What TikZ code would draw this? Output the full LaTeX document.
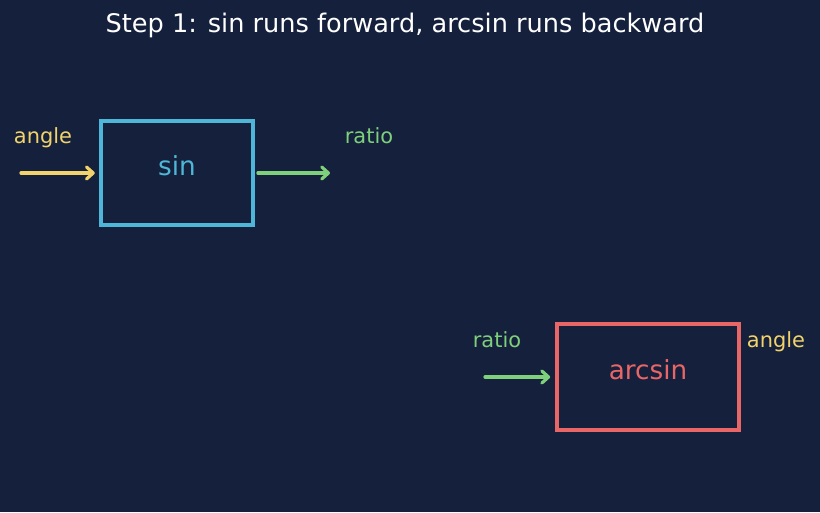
\documentclass[tikz,border=0pt]{standalone}
\usepackage{fontspec}
\setmainfont{DejaVu Sans}
\usetikzlibrary{arrows.meta}
\definecolor{bg}{HTML}{15203D}
\definecolor{cyanc}{HTML}{4EB6D6}
\definecolor{redc}{HTML}{E96666}
\definecolor{yelc}{HTML}{F2D36B}
\definecolor{grnc}{HTML}{7ED07A}
\begin{document}
\begin{tikzpicture}[x=0.75pt,y=-0.75pt,
  fnbox/.style={draw, line width=2.3pt, inner sep=0pt, font=\fontsize{19.5}{22}\selectfont},
  lbl/.style={font=\fontsize{15.7}{18}\selectfont, inner sep=0pt, anchor=base},
  flow/.style={line width=2.4pt, line cap=round, -{Straight Barb[length=5pt,width=9pt,round]}}]
\fill[bg] (0,0) rectangle (820,512);
\useasboundingbox (0,0) rectangle (820,512);
\node[text=white, font=\fontsize{19.2}{22}\selectfont] (title) at (405,25) {Step 1: sin runs forward, arcsin runs backward};
% sin box
\node[fnbox, draw=cyanc, text=cyanc, minimum width=152*0.75pt, minimum height=104*0.75pt] (sinbox) at (177,173) {};
\node[text=cyanc, font=\fontsize{19.7}{22}\selectfont] (sintxt) at (177,166) {sin};
\coordinate (ain) at (21,173);
\coordinate (rout) at (330,173);
\draw[flow, yelc] (ain) -- ([xshift=-3.5pt]sinbox.west);
\draw[flow, grnc] ([xshift=2.5pt]sinbox.east) -- (rout);
\node[lbl, text=yelc] (l1) at (43,143) {angle};
\node[lbl, text=grnc] (l2) at (369,143) {ratio};
% arcsin box
\node[fnbox, draw=redc, minimum width=182*0.75pt, minimum height=106*0.75pt] (asbox) at (648,377) {};
\node[text=redc, font=\fontsize{19.7}{22}\selectfont] (astxt) at (648,370) {arcsin};
\coordinate (rin) at (485,377);
\draw[flow, grnc] (rin) -- ([xshift=-4pt]asbox.west);
\node[lbl, text=grnc] (l3) at (497,347) {ratio};
\node[lbl, text=yelc] (l4) at (776,347) {angle};
\end{tikzpicture}
\end{document}
